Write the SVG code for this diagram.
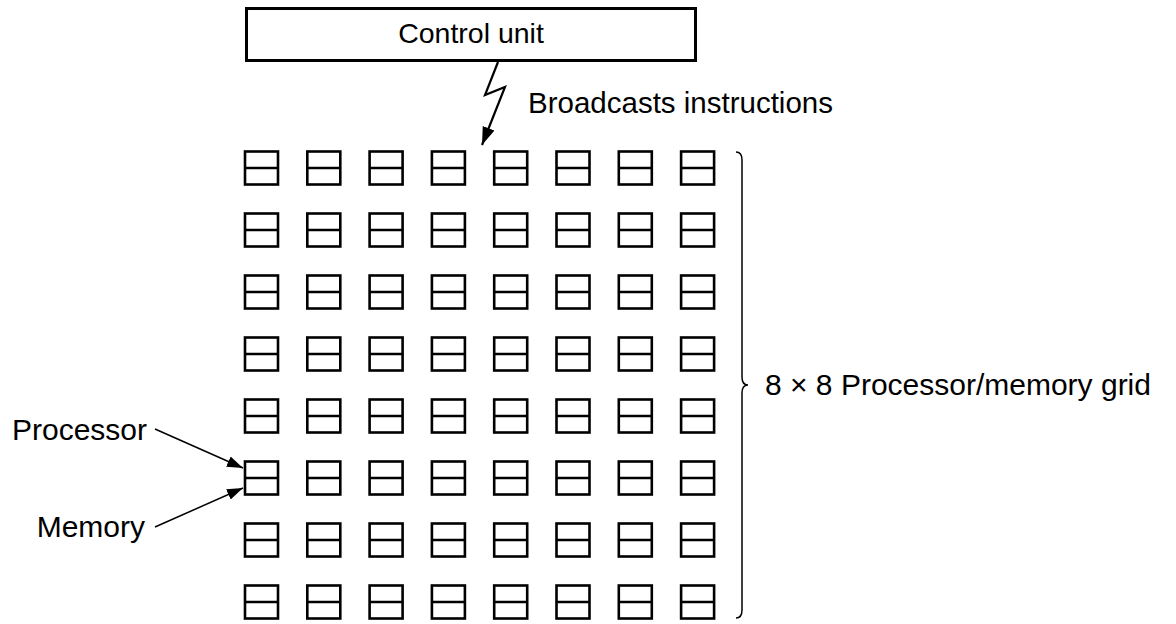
<svg xmlns="http://www.w3.org/2000/svg" width="1176" height="624" viewBox="0 0 1176 624">
<style>
.t{font-family:"Liberation Sans",Arial,sans-serif;font-size:30px;fill:#000}
.c{fill:none;stroke:#000;stroke-width:2.6}
.ln{fill:none;stroke:#000;stroke-width:1.5}
</style>
<defs>
<marker id="ah" viewBox="0 0 10 10" refX="10" refY="5" markerWidth="16" markerHeight="16" markerUnits="userSpaceOnUse" orient="auto">
<path d="M0,1.5 L10,5 L0,8.5 z" fill="#000"/>
</marker>
<marker id="ah2" viewBox="0 0 10 10" refX="10" refY="5" markerWidth="18" markerHeight="18" markerUnits="userSpaceOnUse" orient="auto">
<path d="M0,1.5 L10,5 L0,8.5 z" fill="#000"/>
</marker>
<g id="cell">
<rect class="c" x="-16.5" y="-16.5" width="33" height="33"/>
<line class="c" x1="-16.5" y1="0" x2="16.5" y2="0"/>
</g>
</defs>
<g id="control-unit">
<rect x="246.5" y="8.5" width="449" height="52" fill="#fff" stroke="#000" stroke-width="3"/>
<text class="t" x="471" y="43" text-anchor="middle" style="font-size:28.5px">Control unit</text>
</g>
<g id="grid">
<use href="#cell" x="261.5" y="168"/><use href="#cell" x="323.8" y="168"/><use href="#cell" x="386.1" y="168"/><use href="#cell" x="448.4" y="168"/><use href="#cell" x="510.7" y="168"/><use href="#cell" x="573" y="168"/><use href="#cell" x="635.3" y="168"/><use href="#cell" x="697.6" y="168"/>
<use href="#cell" x="261.5" y="230"/><use href="#cell" x="323.8" y="230"/><use href="#cell" x="386.1" y="230"/><use href="#cell" x="448.4" y="230"/><use href="#cell" x="510.7" y="230"/><use href="#cell" x="573" y="230"/><use href="#cell" x="635.3" y="230"/><use href="#cell" x="697.6" y="230"/>
<use href="#cell" x="261.5" y="292"/><use href="#cell" x="323.8" y="292"/><use href="#cell" x="386.1" y="292"/><use href="#cell" x="448.4" y="292"/><use href="#cell" x="510.7" y="292"/><use href="#cell" x="573" y="292"/><use href="#cell" x="635.3" y="292"/><use href="#cell" x="697.6" y="292"/>
<use href="#cell" x="261.5" y="354"/><use href="#cell" x="323.8" y="354"/><use href="#cell" x="386.1" y="354"/><use href="#cell" x="448.4" y="354"/><use href="#cell" x="510.7" y="354"/><use href="#cell" x="573" y="354"/><use href="#cell" x="635.3" y="354"/><use href="#cell" x="697.6" y="354"/>
<use href="#cell" x="261.5" y="416"/><use href="#cell" x="323.8" y="416"/><use href="#cell" x="386.1" y="416"/><use href="#cell" x="448.4" y="416"/><use href="#cell" x="510.7" y="416"/><use href="#cell" x="573" y="416"/><use href="#cell" x="635.3" y="416"/><use href="#cell" x="697.6" y="416"/>
<use href="#cell" x="261.5" y="478"/><use href="#cell" x="323.8" y="478"/><use href="#cell" x="386.1" y="478"/><use href="#cell" x="448.4" y="478"/><use href="#cell" x="510.7" y="478"/><use href="#cell" x="573" y="478"/><use href="#cell" x="635.3" y="478"/><use href="#cell" x="697.6" y="478"/>
<use href="#cell" x="261.5" y="540"/><use href="#cell" x="323.8" y="540"/><use href="#cell" x="386.1" y="540"/><use href="#cell" x="448.4" y="540"/><use href="#cell" x="510.7" y="540"/><use href="#cell" x="573" y="540"/><use href="#cell" x="635.3" y="540"/><use href="#cell" x="697.6" y="540"/>
<use href="#cell" x="261.5" y="602"/><use href="#cell" x="323.8" y="602"/><use href="#cell" x="386.1" y="602"/><use href="#cell" x="448.4" y="602"/><use href="#cell" x="510.7" y="602"/><use href="#cell" x="573" y="602"/><use href="#cell" x="635.3" y="602"/><use href="#cell" x="697.6" y="602"/>
</g>
<g id="labels">
<text class="t" x="528" y="113" style="font-size:29.5px">Broadcasts instructions</text>
<text class="t" x="147" y="440" text-anchor="end">Processor</text>
<text class="t" x="145" y="537" text-anchor="end">Memory</text>
<text class="t" x="765" y="395">8 × 8 Processor/memory grid</text>
</g>
<g id="connectors">
<polyline points="498,62 485,95 505,87 482,145" fill="none" stroke="#000" stroke-width="2.2" stroke-linejoin="miter" marker-end="url(#ah2)"/>
<line class="ln" x1="155" y1="429" x2="243" y2="468" marker-end="url(#ah)"/>
<line class="ln" x1="155" y1="527" x2="243" y2="488" marker-end="url(#ah)"/>
<path class="ln" d="M736,152 Q742,152 742,160 L742,377 Q742,385 748,385 Q742,385 742,393 L742,610 Q742,618 736,618"/>
</g>
</svg>
